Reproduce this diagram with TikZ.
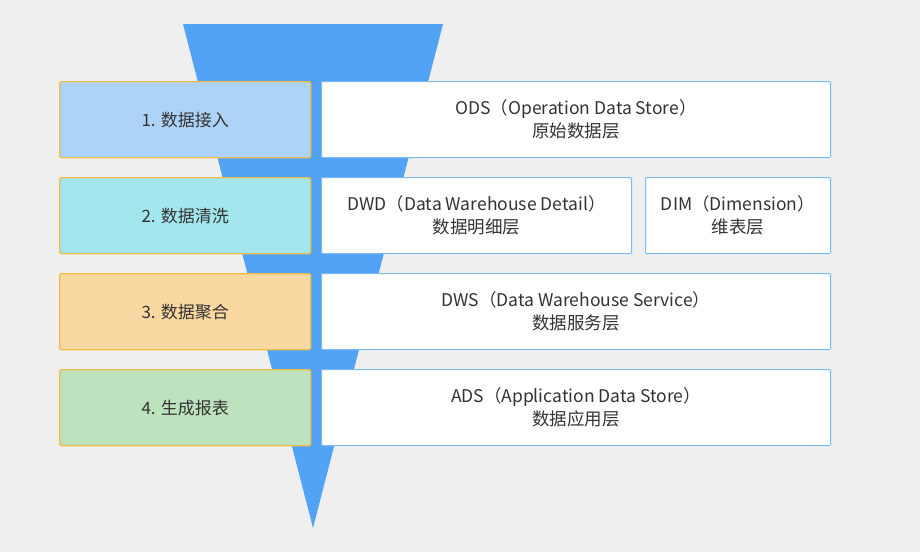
\documentclass[tikz,border=0pt]{standalone}
\usepackage{fontspec}
\setmainfont{Noto Sans CJK SC}
\begin{document}
\begin{tikzpicture}[x=1pt,y=-1pt,
  stage/.style={draw=stageborder,line width=1.3pt,rounded corners=2pt,minimum width=251pt,minimum height=76pt,inner sep=0pt,anchor=north west,font=\fontsize{17}{20}\selectfont,text=txt},
  layer/.style={draw=layerborder,fill=white,line width=1pt,rounded corners=1pt,minimum height=76pt,inner sep=0pt,anchor=north west,font=\fontsize{17.5}{22.5}\selectfont,text=txt,align=center}]
\definecolor{bg}{HTML}{EFEFEF}
\definecolor{funnel}{HTML}{52A3F5}
\definecolor{stageborder}{HTML}{F0BE45}
\definecolor{layerborder}{HTML}{7DBAF2}
\definecolor{txt}{HTML}{333333}
\definecolor{c1}{HTML}{AED3F8}
\definecolor{c2}{HTML}{A4E6EE}
\definecolor{c3}{HTML}{FAD8A2}
\definecolor{c4}{HTML}{BEE1BE}
\fill[bg] (0,0) rectangle (920,552);
\useasboundingbox (0,0) rectangle (920,552);
\fill[funnel] (183,24) -- (443,24) -- (313,528) -- cycle;
\node[stage,fill=c1] (s1) at (59,81) {1. 数据接入};
\node[stage,fill=c2] (s2) at (59,177) {2. 数据清洗};
\node[stage,fill=c3] (s3) at (59,273) {3. 数据聚合};
\node[stage,fill=c4] (s4) at (59,369) {4. 生成报表};
\node[layer,minimum width=509pt] (ods) at (321,81) {ODS（Operation Data Store）\\原始数据层};
\node[layer,minimum width=310pt] (dwd) at (321,177) {DWD（Data Warehouse Detail）\\数据明细层};
\node[layer,minimum width=185pt] (dim) at (645,177) {DIM（Dimension）\\维表层};
\node[layer,minimum width=509pt] (dws) at (321,273) {DWS（Data Warehouse Service）\\数据服务层};
\node[layer,minimum width=509pt] (ads) at (321,369) {ADS（Application Data Store）\\数据应用层};
\end{tikzpicture}
\end{document}
